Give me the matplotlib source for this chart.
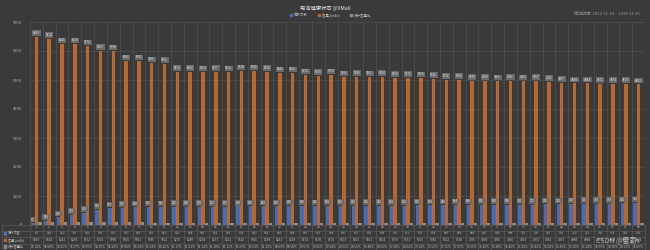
import matplotlib.pyplot as plt
import numpy as np
from matplotlib import transforms as mtransforms

plt.rcParams['font.family'] = ['Noto Sans CJK SC', 'DejaVu Sans']

# 数据
idx = list(range(1, 49))
cycles = [60, 140, 260, 350, 430, 530, 570, 600, 610, 615, 620, 625, 628, 630, 632, 635, 638, 640, 642, 645,
          648, 650, 655, 658, 660, 662, 665, 668, 670, 672, 675, 678, 680, 684, 688, 690, 694, 698, 700, 705,
          710, 715, 720, 725, 730, 738, 745, 752]
capacity = [6483, 6414, 6241, 6238, 6172, 6003, 5998, 5655, 5651, 5586, 5552, 5276, 5280, 5274, 5277, 5272, 5310, 5306,
            5278, 5241, 5238, 5172, 5138, 5170, 5103, 5106, 5101, 5104, 5069, 5071, 5066, 5045, 5012, 5008, 4976,
            4968, 4965, 4966, 4963, 4967, 4941, 4907, 4888, 4884, 4872, 4874, 4870, 4852]
design_cap = 6500
ratio = [c / design_cap * 100 for c in capacity]
row_names = ['循环次数', '容量 (mAh)', '设计容量比']

bg = '#3a3a3a'
grid_c = '#4d4d4d'
c_blue = '#4a6cb3'
c_orange = '#b8672f'
c_gray = '#8c8c8c'
txt_c = '#bdbdbd'

W, H = 650, 250
fig = plt.figure(figsize=(6.5, 2.5), dpi=100, facecolor=bg)
L, R, T, B = 30, 645, 22, 225
ax = fig.add_axes([L / W, 1 - B / H, (R - L) / W, (B - T) / H], facecolor=bg)

x = np.arange(len(idx))
bw = 0.27
ax.bar(x - bw, cycles, bw, color=c_blue, zorder=3)
ax.bar(x, capacity, bw, color=c_orange, zorder=3)
ax.bar(x + bw, ratio, bw, color=c_gray, zorder=3)

lab_box = dict(boxstyle='square,pad=0.25', fc='#6a6a6a', ec='none')
for i in x:
    ax.text(i, capacity[i] + 60, str(capacity[i]), ha='center', va='bottom', fontsize=2.2,
            color='#e0e0e0', bbox=lab_box, zorder=4)
    ax.text(i - bw, cycles[i] + 60, str(cycles[i]), ha='center', va='bottom', fontsize=2.2,
            color='#e0e0e0', bbox=lab_box, zorder=4)

ax.set_xlim(-0.5, len(idx) - 0.5)
ax.set_ylim(0, 7000)
ax.set_yticks(range(0, 7001, 1000))
ax.set_xticks(np.arange(-0.5, len(idx), 1), minor=True)
ax.set_xticks([])
ax.grid(axis='y', color=grid_c, linewidth=0.6, zorder=0)
ax.grid(axis='x', which='minor', color=grid_c, linewidth=0.6, zorder=0)
ax.tick_params(axis='y', length=0, labelsize=2.8, labelcolor=txt_c, pad=6)
ax.tick_params(axis='x', which='both', length=0)
for s in ax.spines.values():
    s.set_visible(False)

# 表格
tr = mtransforms.blended_transform_factory(ax.transData, fig.transFigure)
rows_y = [227, 233.5, 240, 246.5]
lines_y = [224.5, 230.5, 237, 243.5, 250]
for yy in lines_y:
    fig.add_artist(plt.Line2D([2 / W, R / W], [1 - yy / H] * 2, color='#5a5a5a', lw=0.5))
for i in range(len(idx) + 1):
    ax.plot([i - 0.5, i - 0.5], [1 - 224.5 / H, 0], transform=tr, color='#5a5a5a', lw=0.5, clip_on=False)
fig.add_artist(plt.Line2D([2 / W] * 2, [1 - 224.5 / H, 0], color='#5a5a5a', lw=0.5))
for i in x:
    vals = [str(idx[i]), str(cycles[i]), str(capacity[i]), '%.2f%%' % ratio[i]]
    for r, v in enumerate(vals):
        ax.text(i, 1 - rows_y[r] / H, v, transform=tr, ha='center', va='center', fontsize=2.3,
                color=txt_c, clip_on=False)
sw = [c_blue, c_orange, c_gray]
for r, name in enumerate(row_names):
    yy = 1 - rows_y[r + 1] / H
    fig.add_artist(plt.Rectangle((4 / W, yy - 1.2 / H), 2.4 / W, 2.4 / H, color=sw[r], transform=fig.transFigure))
    fig.text(8 / W, yy, name, ha='left', va='center', fontsize=2.3, color=txt_c)

# 标题与图例
fig.text(0.5, 1 - 9 / H, '电池健康状态 @XMall', ha='center', va='center', fontsize=3.8, color='#e6e6e6')
leg = [('循环次数', c_blue), ('容量 (mAh)', c_orange), ('设计容量比', c_gray)]
lx = [290, 318, 350]
for (name, col), xx in zip(leg, lx):
    fig.add_artist(plt.Rectangle((xx / W, 1 - 16.2 / H), 2.4 / W, 2.4 / H, color=col, transform=fig.transFigure))
    fig.text((xx + 4) / W, 1 - 15 / H, name, ha='left', va='center', fontsize=2.5, color=txt_c)
fig.text(640 / W, 1 - 14 / H, '检测时间: 2023-11-18 ~ 2024-11-26', ha='right', va='center', fontsize=3,
         color='#9a9a9a')
fig.text(640 / W, 1 - 240 / H, 'CSDN @雷霸x', ha='right', va='center', fontsize=5, color='#d0d0d0', alpha=0.8)

fig.savefig('out.png', dpi=100, facecolor=bg)
